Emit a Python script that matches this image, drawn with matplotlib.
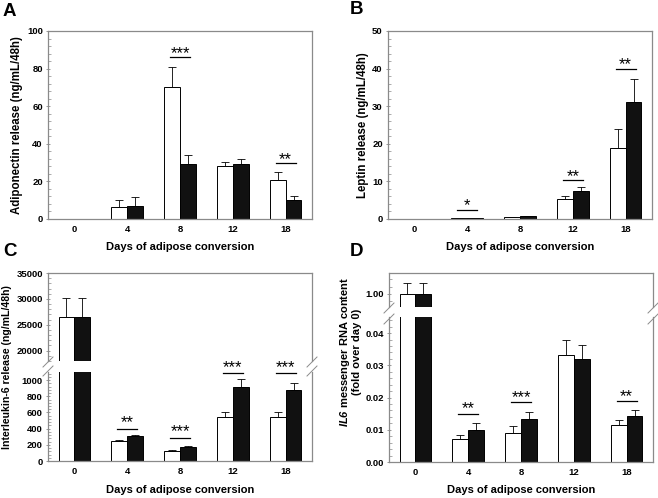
import numpy as np
import matplotlib
matplotlib.use("Agg")
import matplotlib.pyplot as plt
from matplotlib.lines import Line2D
from matplotlib.ticker import MultipleLocator, FormatStrFormatter

# ─── DATA ───────────────────────────────────────────────────────────────────
days = ["0", "4", "8", "12", "18"]
nan = np.nan

# A: adiponectin release (ng/mL/48h)
adipo_white = [nan, 6.5, 70.0, 28.0, 21.0]
adipo_white_err = [nan, 3.5, 11.0, 2.5, 4.0]
adipo_black = [nan, 7.0, 29.0, 29.0, 10.0]
adipo_black_err = [nan, 4.5, 5.0, 3.0, 2.0]
adipo_sig = [(2, 86.0, "***"), (4, 29.7, "**")]

# B: leptin release (ng/mL/48h)
leptin_white = [nan, 0.2, 0.5, 5.3, 19.0]
leptin_white_err = [nan, 0.05, 0.1, 0.8, 4.9]
leptin_black = [nan, 0.3, 0.7, 7.4, 31.2]
leptin_black_err = [nan, 0.05, 0.2, 1.0, 6.1]
leptin_sig = [(1, 2.5, "*"), (3, 10.4, "**"), (4, 40.0, "**")]

# C: interleukin-6 release (ng/mL/48h)
il6_white = [26500, 245, 120, 550, 540]
il6_white_err = [3600, 10, 12, 60, 60]
il6_black = [26500, 310, 170, 920, 880]
il6_black_err = [3600, 10, 20, 90, 90]
il6_sig = [(1, 400, "**"), (2, 290, "***"), (3, 1083, "***"), (4, 1083, "***")]

# D: IL6 mRNA (fold over day 0)
mrna_white = [1.0, 0.0070, 0.0090, 0.0332, 0.0115]
mrna_white_err = [0.03, 0.0015, 0.0021, 0.0046, 0.0015]
mrna_black = [1.0, 0.0100, 0.0132, 0.0320, 0.0142]
mrna_black_err = [0.03, 0.0022, 0.0024, 0.0042, 0.0020]
mrna_sig = [(1, 0.0150, "**"), (2, 0.0185, "***"), (4, 0.0188, "**")]

# ─── STYLE ──────────────────────────────────────────────────────────────────
plt.rcParams["font.family"] = ["Liberation Sans", "DejaVu Sans"]
plt.rcParams["font.weight"] = "bold"
plt.rcParams["mathtext.fontset"] = "custom"
plt.rcParams["mathtext.it"] = "Liberation Sans:italic:bold"
plt.rcParams["mathtext.rm"] = "Liberation Sans:italic:bold"  # digits in IL6

SPINE = "#8a8a8a"
TICK_FS = 6.8
LABEL_FS = 8.0
STAR_FS = 12
W, H = 658, 498

fig = plt.figure(figsize=(W / 100, H / 100), dpi=100, facecolor="white")


def px_axes(x0, x1, y0, y1):
    # axes from pixel box (top-left origin)
    return fig.add_axes([x0 / W, 1 - y1 / H, (x1 - x0) / W, (y1 - y0) / H])


def style(ax, major, minor, fmt=None):
    ax.set_xlim(-0.5, 4.5)
    ax.set_xticks(range(len(days)))
    ax.set_xticklabels(days)
    ax.tick_params(axis="x", length=0, pad=4, labelsize=TICK_FS)
    ax.yaxis.set_major_locator(MultipleLocator(major))
    ax.yaxis.set_minor_locator(MultipleLocator(minor))
    if fmt:
        ax.yaxis.set_major_formatter(FormatStrFormatter(fmt))
    ax.tick_params(axis="y", which="major", direction="inout", length=3.5,
                   width=0.6, color=SPINE, labelsize=TICK_FS, pad=2)
    ax.tick_params(axis="y", which="minor", direction="in", length=1.8,
                   width=0.5, color=SPINE)
    for s in ax.spines.values():
        s.set_color(SPINE)
        s.set_linewidth(0.9)


def bars(ax, white, werr, black, berr):
    x = np.arange(len(days))
    kw = dict(width=0.3, edgecolor="black", linewidth=0.7, zorder=2)
    ax.bar(x - 0.15, white, color="white", **kw)
    ax.bar(x + 0.15, black, color="#111111", **kw)
    ekw = dict(fmt="none", ecolor="black", elinewidth=0.6, capsize=2.8,
               capthick=0.6, zorder=1)
    ax.errorbar(x - 0.15, white, yerr=[np.zeros(len(x)), werr], **ekw)
    ax.errorbar(x + 0.15, black, yerr=[np.zeros(len(x)), berr], **ekw)


def stars(ax, sig, dy):
    for i, y, s in sig:
        ax.plot([i - 0.19, i + 0.19], [y, y], color="black", lw=0.9,
                clip_on=False, zorder=3)
        ax.text(i, y + dy, s, ha="center", va="bottom", fontsize=STAR_FS,
                fontweight="normal", clip_on=False)


def break_marks(x_px, y_px):
    for yy in y_px:
        fig.add_artist(Line2D([(x_px - 5) / W, (x_px + 5) / W],
                              [1 - (yy + 5) / H, 1 - (yy - 5) / H],
                              color=SPINE, lw=0.7))


# ─── PANEL A ────────────────────────────────────────────────────────────────
axA = px_axes(48, 312, 31, 219)
bars(axA, adipo_white, adipo_white_err, adipo_black, adipo_black_err)
stars(axA, adipo_sig, -2.0)
axA.set_ylim(0, 100)
style(axA, 20, 4)

# ─── PANEL B ────────────────────────────────────────────────────────────────
axB = px_axes(388, 652, 31, 219)
bars(axB, leptin_white, leptin_white_err, leptin_black, leptin_black_err)
stars(axB, leptin_sig, -1.0)
axB.set_ylim(0, 50)
style(axB, 10, 2)

# ─── PANEL C (broken axis) ─────────────────────────────────────────────────
axC1 = px_axes(48, 312, 273, 361)
axC2 = px_axes(48, 312, 372, 461)
for ax in (axC1, axC2):
    bars(ax, il6_white, il6_white_err, il6_black, il6_black_err)
axC1.set_ylim(18000, 35000)
axC2.set_ylim(0, 1100)
style(axC1, 5000, 1000)
style(axC2, 200, 40)
axC1.set_yticks([20000, 25000, 30000, 35000])
axC1.spines["bottom"].set_visible(False)
axC1.tick_params(axis="x", labelbottom=False)
axC2.spines["top"].set_visible(False)
stars(axC2, il6_sig, -22)
break_marks(48, [362, 371])
break_marks(312, [362, 371])

# ─── PANEL D (broken axis) ─────────────────────────────────────────────────
axD1 = px_axes(389, 653, 273, 307)
axD2 = px_axes(389, 653, 317, 462)
for ax in (axD1, axD2):
    bars(ax, mrna_white, mrna_white_err, mrna_black, mrna_black_err)
axD1.set_ylim(0.963, 1.058)
axD2.set_ylim(0, 0.045)
style(axD1, 0.1, 0.02, "%.2f")
style(axD2, 0.01, 0.002, "%.2f")
axD1.set_yticks([1.0])
axD1.spines["bottom"].set_visible(False)
axD1.tick_params(axis="x", labelbottom=False)
axD2.spines["top"].set_visible(False)
stars(axD2, mrna_sig, -0.0007)
break_marks(389, [308, 319])
break_marks(653, [308, 319])

# ─── LABELS ─────────────────────────────────────────────────────────────────
for xc, yc in [(180, 247), (520, 247), (180, 490), (521, 490)]:
    fig.text(xc / W, 1 - yc / H, "Days of adipose conversion",
             ha="center", va="center", fontsize=LABEL_FS)

fig.text(17 / W, 1 - 125 / H, "Adiponectin release (ng/mL/48h)",
         rotation=90, ha="center", va="center", fontsize=LABEL_FS + 0.3)
fig.text(363 / W, 1 - 125 / H, "Leptin release (ng/mL/48h)",
         rotation=90, ha="center", va="center", fontsize=LABEL_FS + 0.3)
fig.text(7 / W, 1 - 367 / H, "Interleukin-6 release (ng/mL/48h)",
         rotation=90, ha="center", va="center", fontsize=LABEL_FS - 0.4)
fig.text(350 / W, 1 - 352 / H,
         "$IL6$ messenger RNA content\n(fold over day 0)",
         rotation=90, ha="center", va="center", fontsize=LABEL_FS,
         multialignment="center", linespacing=1.1)

for s, xc, yc in [("A", 9, 12), ("B", 357, 10), ("C", 10, 251), ("D", 357, 251)]:
    fig.text(xc / W, 1 - yc / H, s, ha="center", va="center",
             fontsize=13.5, fontweight="bold")

fig.savefig("out.png", dpi=100, facecolor="white")
